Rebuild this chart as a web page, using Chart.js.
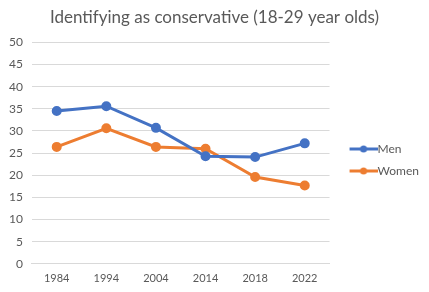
<!DOCTYPE html>
<html>
<head>
<meta charset="utf-8">
<script src="https://cdn.jsdelivr.net/npm/chart.js@4/dist/chart.umd.min.js"></script>
<style>
  body { margin: 0; background: #fff; }
</style>
</head>
<body>
<canvas id="chart" width="429" height="292"></canvas>
<script>
const years = ['1984', '1994', '2004', '2014', '2018', '2022']
const men = [34.5, 35.6, 30.7, 24.3, 24.1, 27.2]
const women = [26.4, 30.6, 26.4, 26.0, 19.6, 17.7]

const grey = '#595959'
const font = 'Lato'

// legend marker: line with a dot, drawn on the right part of a wider image
function marker(color) {
  const c = document.createElement('canvas')
  c.width = 44
  c.height = 10
  const ctx = c.getContext('2d')
  ctx.strokeStyle = color
  ctx.lineWidth = 3
  ctx.beginPath()
  ctx.moveTo(16, 5)
  ctx.lineTo(44, 5)
  ctx.stroke()
  ctx.fillStyle = color
  ctx.beginPath()
  ctx.arc(30, 5, 3.5, 0, Math.PI * 2)
  ctx.fill()
  return c
}

new Chart(document.getElementById('chart'), {
  type: 'line',
  data: {
    labels: years,
    datasets: [
      {
        label: 'Men',
        data: men,
        borderColor: '#4472C4',
        backgroundColor: '#4472C4',
        borderWidth: 3,
        pointRadius: 3.5,
        tension: 0
      },
      {
        label: 'Women',
        data: women,
        borderColor: '#ED7D31',
        backgroundColor: '#ED7D31',
        borderWidth: 3,
        pointRadius: 3.5,
        tension: 0
      }
    ]
  },
  options: {
    responsive: false,
    animation: false,
    layout: { padding: { left: 0, right: 0, top: 0, bottom: 7 } },
    plugins: {
      title: {
        display: true,
        text: 'Identifying as conservative (18-29 year olds)',
        color: grey,
        font: { family: font, size: 17, weight: 'normal' },
        padding: { top: 7, bottom: 15 }
      },
      legend: {
        position: 'right',
        // empty title only pushes the legend items down
        title: { display: true, text: ' ', font: { size: 10 }, padding: { top: 23, bottom: 0 } },
        labels: {
          color: grey,
          font: { family: font, size: 12 },
          usePointStyle: true,
          pointStyleWidth: 32,
          padding: 10,
          generateLabels: (chart) => chart.data.datasets.map((ds, i) => ({
            text: ds.label,
            fontColor: grey,
            pointStyle: marker(ds.borderColor),
            datasetIndex: i,
            lineWidth: 0,
            strokeStyle: 'transparent',
            fillStyle: 'transparent'
          }))
        }
      },
      tooltip: { enabled: false }
    },
    scales: {
      x: {
        offset: true,
        grid: { display: false },
        border: { color: '#d9d9d9' },
        ticks: { color: grey, font: { family: font, size: 11 }, padding: 0 }
      },
      y: {
        min: 0,
        max: 50,
        ticks: { stepSize: 5, color: grey, font: { family: font, size: 12 }, padding: 9 },
        grid: { color: '#d9d9d9', drawTicks: false },
        border: { display: false }
      }
    }
  }
})
</script>
</body>
</html>
